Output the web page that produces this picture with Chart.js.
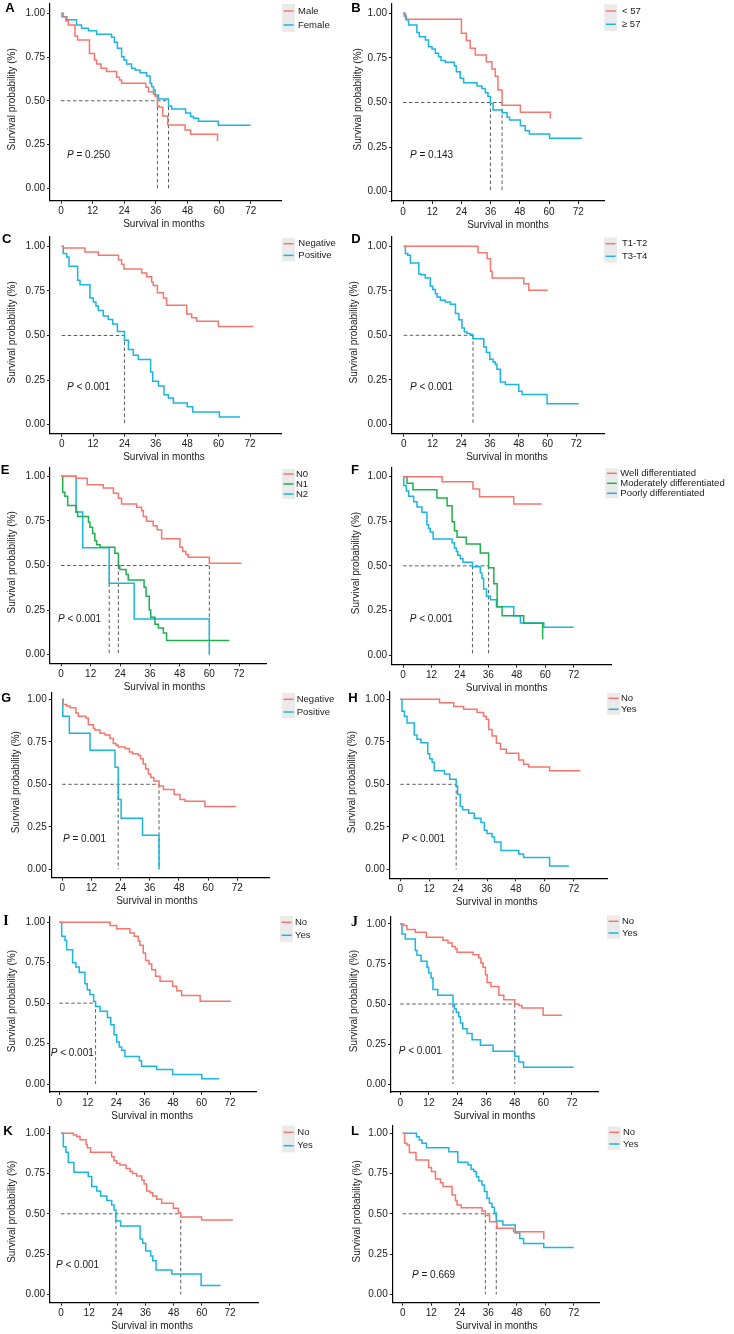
<!DOCTYPE html>
<html>
<head>
<meta charset="utf-8">
<script src="https://cdn.jsdelivr.net/npm/chart.js@4.4.1/dist/chart.umd.min.js"></script>
<style>
    html, body { margin: 0; padding: 0; background: #ffffff; }
    body { width: 734px; height: 1334px; position: relative; overflow: hidden; }
    canvas { position: absolute; }
</style>
</head>
<body>
<script>
const xTicks = [0, 12, 24, 36, 48, 60, 72];
const yTicks = [0, 0.25, 0.5, 0.75, 1];

// [months, survival] step points
const maleA = [[0, 1], [0.9, 0.98], [1.8, 0.958], [2.8, 0.933], [5.3, 0.87], [6.3, 0.848], [10.8, 0.771], [12.7, 0.733], [13.5, 0.71], [15.2, 0.686], [17.3, 0.667], [21.1, 0.634], [22.2, 0.619], [23, 0.6], [32.2, 0.577], [33.2, 0.552], [35.1, 0.537], [35.8, 0.524], [36.6, 0.47], [37.3, 0.463], [38.6, 0.413], [40.5, 0.362], [47.1, 0.333], [49.2, 0.309], [59.4, 0.27]];
const femaleA = [[0, 1], [0.4, 0.98], [2.2, 0.963], [5.9, 0.933], [7.8, 0.914], [10.4, 0.9], [13.5, 0.88], [19.2, 0.863], [20.3, 0.834], [21.4, 0.8], [23, 0.752], [23.9, 0.733], [24.9, 0.71], [26.8, 0.686], [28.1, 0.676], [30, 0.661], [32.5, 0.642], [33.8, 0.6], [34.4, 0.581], [35.1, 0.562], [35.7, 0.533], [37, 0.51], [40.8, 0.47], [42, 0.453], [47.3, 0.43], [49.2, 0.41], [50.3, 0.4], [52.2, 0.383], [59.7, 0.36], [72, 0.36]];
const mediansA = [36.6, 40.8];

const youngB = [[0, 1], [1, 0.966], [24, 0.888], [26, 0.847], [27.6, 0.804], [29.7, 0.766], [34.2, 0.729], [36.5, 0.688], [37.9, 0.647], [39, 0.57], [40.7, 0.484], [48.2, 0.445], [60.5, 0.411]];
const oldB = [[0, 1], [0.5, 0.985], [1.4, 0.963], [2.3, 0.935], [5.7, 0.892], [6.7, 0.869], [9.2, 0.85], [10.5, 0.813], [11.9, 0.8], [13.3, 0.776], [14.6, 0.757], [15.6, 0.735], [17.4, 0.725], [21.1, 0.705], [21.9, 0.673], [23.5, 0.636], [24.9, 0.611], [30.4, 0.592], [32.4, 0.579], [33.8, 0.555], [34.9, 0.533], [35.9, 0.495], [37, 0.458], [40.7, 0.443], [42.7, 0.417], [43.8, 0.402], [48.2, 0.37], [50.2, 0.342], [51.9, 0.323], [60.2, 0.299], [73.5, 0.299]];
const mediansB = [35.9, 40.7];

const negC = [[0, 1], [0.6, 0.99], [8.9, 0.968], [14, 0.95], [21.7, 0.925], [22.9, 0.9], [23.8, 0.873], [30.6, 0.85], [32.5, 0.83], [34.4, 0.8], [35, 0.78], [36.6, 0.74], [38.9, 0.71], [40.1, 0.67], [47.8, 0.62], [49.7, 0.6], [51.6, 0.58], [59.9, 0.55], [73.3, 0.55]];
const posC = [[0, 1], [0.6, 0.959], [1.9, 0.94], [2.8, 0.888], [6.1, 0.81], [7, 0.785], [10.8, 0.71], [12.1, 0.688], [13.1, 0.665], [14, 0.64], [15.9, 0.609], [17.8, 0.589], [19.5, 0.565], [21.3, 0.523], [24, 0.473], [25.5, 0.421], [27.4, 0.389], [29.3, 0.366], [34, 0.295], [34.8, 0.243], [37, 0.217], [39.1, 0.168], [40.8, 0.15], [42.7, 0.122], [48, 0.1], [50.1, 0.071], [60.3, 0.043], [68.2, 0.043]];
const mediansC = [24];

const earlyD = [[0, 1], [31, 0.964], [34.8, 0.93], [36.2, 0.86], [36.9, 0.822], [50.1, 0.79], [52.2, 0.753], [60.1, 0.753]];
const lateD = [[0, 1], [0.7, 0.959], [1.7, 0.95], [2.8, 0.906], [6.3, 0.846], [7, 0.84], [9, 0.822], [11.1, 0.775], [12.1, 0.757], [13.2, 0.734], [13.9, 0.715], [15.3, 0.697], [17.4, 0.687], [19.5, 0.674], [21.6, 0.622], [23, 0.588], [24.3, 0.541], [25.3, 0.519], [26.4, 0.51], [27.8, 0.504], [28.9, 0.481], [33.4, 0.434], [34.5, 0.403], [35.9, 0.365], [37.3, 0.35], [38.2, 0.337], [38.9, 0.309], [40.3, 0.238], [42.4, 0.223], [48, 0.185], [49.4, 0.167], [59.8, 0.116], [73, 0.116]];
const mediansD = [28.9];

const n0E = [[0, 1], [6.1, 0.989], [10.6, 0.953], [17.1, 0.935], [21.2, 0.905], [23.2, 0.877], [24.5, 0.845], [30.6, 0.826], [32.6, 0.807], [33.3, 0.774], [34.6, 0.748], [37.3, 0.723], [38.9, 0.7], [40.7, 0.65], [48.1, 0.602], [49.2, 0.579], [50.5, 0.561], [51.5, 0.546], [60, 0.512], [73, 0.512]];
const n1E = [[0, 1], [0.7, 0.91], [1.6, 0.888], [2.7, 0.836], [6.1, 0.8], [6.7, 0.774], [11.1, 0.742], [11.7, 0.714], [12.8, 0.68], [13.7, 0.639], [14.4, 0.617], [15.8, 0.602], [21.8, 0.568], [23.2, 0.5], [23.8, 0.477], [26.3, 0.449], [27.2, 0.419], [33.6, 0.378], [34.4, 0.327], [35.7, 0.25], [36.3, 0.21], [38, 0.17], [39.4, 0.15], [41.4, 0.121], [42.7, 0.08], [68.1, 0.08]];
const n2E = [[0, 1], [6.1, 0.8], [8.8, 0.6], [19.5, 0.4], [29.6, 0.2], [60, 0]];
const mediansE = [19.5, 23.2, 60];

const wellF = [[0, 1], [16.5, 0.972], [29.5, 0.931], [32.3, 0.888], [46.7, 0.847], [58.6, 0.847]];
const moderateF = [[0, 1], [1.7, 0.963], [4.2, 0.927], [14.3, 0.88], [18.6, 0.837], [20.7, 0.748], [21.7, 0.697], [22.8, 0.66], [26.7, 0.622], [32.6, 0.572], [36.1, 0.49], [38.3, 0.4], [39.7, 0.27], [41.8, 0.22], [50.9, 0.178], [58.9, 0.09]];
const poorF = [[0, 1], [0.3, 0.95], [1.4, 0.92], [2.4, 0.89], [4.5, 0.86], [5.9, 0.83], [8, 0.8], [10.1, 0.73], [10.8, 0.71], [11.5, 0.69], [12.7, 0.65], [20.7, 0.63], [21.7, 0.6], [22.5, 0.58], [23.1, 0.56], [24.2, 0.54], [25.3, 0.52], [29.3, 0.495], [32.6, 0.46], [33.3, 0.43], [34, 0.37], [35.2, 0.33], [36.9, 0.31], [39.4, 0.27], [46.7, 0.22], [49.5, 0.18], [59.4, 0.155], [72, 0.155]];
const mediansF = [29.3, 36.1];

const negG = [[0, 1], [0.4, 0.97], [1.8, 0.96], [3.2, 0.95], [5.6, 0.92], [6.6, 0.9], [9.7, 0.89], [10.7, 0.85], [12.8, 0.83], [13.4, 0.82], [15.5, 0.8], [17.6, 0.79], [19.6, 0.77], [21, 0.74], [22.1, 0.73], [23, 0.72], [25.8, 0.71], [27.6, 0.69], [28.9, 0.68], [31.3, 0.67], [32.2, 0.65], [33.3, 0.62], [34.3, 0.59], [35.4, 0.56], [36.4, 0.54], [37.7, 0.52], [39.8, 0.49], [41.6, 0.47], [46, 0.44], [48.4, 0.41], [50.5, 0.4], [58.7, 0.37], [71.5, 0.37]];
const posG = [[0, 1], [0.2, 0.9], [2.9, 0.8], [11.4, 0.7], [21.7, 0.6], [23, 0.41], [24.2, 0.3], [33, 0.2], [39.8, 0]];
const mediansG = [23, 39.8];

const noH = [[0, 1], [16.3, 0.98], [22.2, 0.957], [26.3, 0.941], [31.9, 0.922], [34.6, 0.9], [35.7, 0.882], [36.7, 0.822], [38.1, 0.784], [39.9, 0.741], [41.6, 0.706], [44, 0.682], [49.2, 0.643], [51.2, 0.618], [53.3, 0.602], [62, 0.58], [74.8, 0.58]];
const yesH = [[0, 1], [0.7, 0.93], [1.7, 0.9], [2.8, 0.86], [5.8, 0.79], [6.9, 0.765], [8.6, 0.745], [11.4, 0.68], [12.2, 0.65], [13.2, 0.63], [14.1, 0.58], [18.3, 0.56], [20.5, 0.53], [23.2, 0.49], [23.8, 0.44], [24.9, 0.37], [25.9, 0.35], [28.4, 0.33], [30.7, 0.3], [33.5, 0.275], [34.9, 0.23], [36, 0.21], [38.1, 0.19], [39.1, 0.16], [41.8, 0.11], [49.2, 0.09], [51.2, 0.07], [62, 0.02], [70, 0.02]];
const mediansH = [23.2];

const noI = [[0, 1], [21.4, 0.98], [24.2, 0.96], [29.8, 0.934], [31.6, 0.913], [33.3, 0.883], [34, 0.858], [35.4, 0.81], [36.4, 0.763], [37.8, 0.742], [39, 0.707], [40.6, 0.666], [42.5, 0.635], [47.8, 0.604], [49.5, 0.577], [51.6, 0.548], [59.4, 0.511], [72.3, 0.511]];
const yesI = [[0, 1], [1, 0.913], [2.4, 0.889], [3.1, 0.831], [5.6, 0.75], [7, 0.724], [8.4, 0.691], [10.8, 0.62], [11.8, 0.583], [12.9, 0.553], [14.5, 0.51], [15.3, 0.48], [17.2, 0.45], [20.3, 0.412], [21.7, 0.367], [23.1, 0.305], [24.2, 0.26], [25.3, 0.229], [26.3, 0.208], [27.7, 0.17], [33.8, 0.144], [34.7, 0.11], [41.1, 0.089], [47.8, 0.058], [60.1, 0.033], [67.5, 0.033]];
const mediansI = [15.3];

const noJ = [[0, 1], [1.4, 0.99], [2.8, 0.965], [6.3, 0.948], [10.9, 0.917], [17.9, 0.898], [20, 0.881], [21.7, 0.86], [23.1, 0.846], [23.8, 0.823], [30.5, 0.808], [32.9, 0.787], [33.8, 0.756], [34.7, 0.729], [35.7, 0.683], [36.4, 0.635], [38, 0.61], [41.3, 0.555], [43.4, 0.527], [48, 0.5], [49.7, 0.49], [51, 0.475], [59.9, 0.43], [67.8, 0.43]];
const yesJ = [[0, 1], [0.7, 0.938], [2.1, 0.906], [6.3, 0.835], [7, 0.804], [8.7, 0.767], [11.2, 0.729], [11.9, 0.694], [12.9, 0.663], [13.7, 0.59], [15.7, 0.554], [22.1, 0.495], [22.7, 0.469], [23.5, 0.448], [24.5, 0.42], [25.2, 0.381], [26.2, 0.346], [28, 0.315], [30.1, 0.277], [33.6, 0.242], [38.9, 0.204], [48, 0.173], [49.7, 0.138], [51.7, 0.104], [72.7, 0.104]];
const mediansJ = [22.1, 48];

const noK = [[0, 1], [5.3, 0.99], [6.7, 0.98], [8.1, 0.96], [10.7, 0.93], [11.2, 0.91], [12.6, 0.882], [21.6, 0.855], [22.6, 0.83], [23.7, 0.814], [25.1, 0.803], [27.7, 0.782], [29.4, 0.762], [30.5, 0.751], [32.2, 0.735], [34.4, 0.71], [35.4, 0.685], [36.5, 0.642], [37.9, 0.631], [39.1, 0.611], [40.8, 0.59], [42.9, 0.565], [47.9, 0.534], [50, 0.507], [51, 0.48], [59.9, 0.462], [73.2, 0.462]];
const yesK = [[0, 1], [1, 0.917], [2.1, 0.882], [3.1, 0.818], [5.5, 0.758], [11.6, 0.731], [13.1, 0.669], [15.2, 0.642], [16.9, 0.611], [19.5, 0.582], [21.6, 0.555], [22.6, 0.524], [23.4, 0.455], [25.4, 0.424], [33.7, 0.344], [34.8, 0.317], [36.1, 0.269], [38.2, 0.238], [39.1, 0.209], [40.5, 0.151], [47.2, 0.126], [59.7, 0.054], [68, 0.054]];
const mediansK = [23.4, 51];

const noL = [[0, 1], [0.8, 0.938], [1.8, 0.928], [2.8, 0.88], [5.6, 0.834], [10.9, 0.787], [12.1, 0.762], [13.8, 0.716], [15.9, 0.693], [17, 0.669], [20.8, 0.617], [22.2, 0.582], [22.9, 0.555], [24.6, 0.538], [33.4, 0.517], [34.8, 0.49], [36.6, 0.451], [39.7, 0.41], [46.7, 0.389], [59.4, 0.342]];
const yesL = [[0, 1], [5.8, 0.979], [7, 0.958], [8.1, 0.938], [10, 0.911], [19.4, 0.886], [23.2, 0.82], [27.5, 0.803], [28.8, 0.776], [29.9, 0.762], [31, 0.73], [32, 0.704], [33.4, 0.679], [34.4, 0.638], [35.5, 0.596], [36.5, 0.565], [37.6, 0.54], [38.6, 0.505], [39.4, 0.455], [42.2, 0.43], [47.4, 0.381], [49.3, 0.346], [50.9, 0.315], [59.4, 0.29], [72, 0.29]];
const mediansL = [34.8, 39.4];

const labelsA = ['Male', 'Female'];
const labelsB = ['< 57', '\u2265 57'];
const labelsC = ['Negative', 'Positive'];
const labelsD = ['T1-T2', 'T3-T4'];
const labelsE = ['N0', 'N1', 'N2'];
const labelsF = ['Well differentiated', 'Moderately differentiated', 'Poorly differentiated'];
const labelsG = ['Negative', 'Positive'];
const labelsYesNo = ['No', 'Yes'];

const pValues = ['= 0.250', '= 0.143', '< 0.001', '< 0.001', '< 0.001', '< 0.001', '= 0.001', '< 0.001', '< 0.001', '< 0.001', '< 0.001', '= 0.669'];

const RED = '#F8766D';
const BLUE = '#1AB4E5';
const GREEN = '#1FAF4E';
const PAGE_WIDTH = 734;
const FONT = '"Liberation Sans", Arial, sans-serif';
const TEXT = '#1a1a1a';

// axis box (L,T,R,B), tick pixels, text anchors - all in page pixels
const panels = [
    { letter: 'A', lx: 10, ly: 8, L: 50, T: 4, R: 281.7, B: 200.7, x0: 61, x72: 250.7, y1: 13.3, y0: 188.3, ytx: 12.5, xtx: 164, px: 67, py: 155, lgx: 282, lgy: 11, lgr: 14, lgt: 298, curves: [maleA, femaleA], labels: labelsA, colors: [RED, BLUE], medians: mediansA },
    { letter: 'B', lx: 356, ly: 8, L: 392, T: 3.5, R: 604.3, B: 201, x0: 403, x72: 578.3, y1: 13.3, y0: 191.7, ytx: 358, xtx: 508, px: 410, py: 155, lgx: 604.3, lgy: 11, lgr: 13.3, lgt: 622, curves: [youngB, oldB], labels: labelsB, colors: [RED, BLUE], medians: mediansB },
    { letter: 'C', lx: 6.7, ly: 239.5, L: 50, T: 237, R: 281.7, B: 433.7, x0: 61.7, x72: 250, y1: 246.3, y0: 424.7, ytx: 12.5, xtx: 164, px: 67, py: 387, lgx: 282, lgy: 243.7, lgr: 11.7, lgt: 298.3, curves: [negC, posC], labels: labelsC, colors: [RED, BLUE], medians: mediansC },
    { letter: 'D', lx: 356, ly: 239.5, L: 392, T: 237, R: 604.3, B: 433.7, x0: 403.7, x72: 576.3, y1: 246.3, y0: 424.3, ytx: 354, xtx: 507, px: 410, py: 387, lgx: 604, lgy: 243.7, lgr: 12.6, lgt: 622, curves: [earlyD, lateD], labels: labelsD, colors: [RED, BLUE], medians: mediansD },
    { letter: 'E', lx: 5, ly: 470, L: 50, T: 467.3, R: 266.7, B: 663.3, x0: 61, x72: 239, y1: 476.3, y0: 654.7, ytx: 12.5, xtx: 164.5, px: 58, py: 619, lgx: 282, lgy: 474, lgr: 10, lgt: 296, curves: [n0E, n1E, n2E], labels: labelsE, colors: [RED, GREEN, BLUE], medians: mediansE },
    { letter: 'F', lx: 355, ly: 470, L: 392, T: 467.3, R: 611, B: 664.7, x0: 403, x72: 573.7, y1: 476.7, y0: 655, ytx: 356, xtx: 506.7, px: 409.7, py: 619, lgx: 605.3, lgy: 473.3, lgr: 10, lgt: 620.3, curves: [wellF, moderateF, poorF], labels: labelsF, colors: [RED, GREEN, BLUE], medians: mediansF },
    { letter: 'G', lx: 6, ly: 698, L: 51.7, T: 692.7, R: 270, B: 877.7, x0: 62.3, x72: 237.3, y1: 699.3, y0: 869.3, ytx: 16, xtx: 157, px: 63, py: 839, lgx: 282, lgy: 699.3, lgr: 12.7, lgt: 296.7, curves: [negG, posG], labels: labelsG, colors: [RED, BLUE], medians: mediansG },
    { letter: 'H', lx: 353, ly: 698.5, L: 389.7, T: 692, R: 607.7, B: 878.3, x0: 400.3, x72: 573.7, y1: 699.3, y0: 869.3, ytx: 352, xtx: 496.7, px: 402, py: 839.3, lgx: 607, lgy: 698.3, lgr: 11, lgt: 621, curves: [noH, yesH], labels: labelsYesNo, colors: [RED, BLUE], medians: mediansH },
    { letter: 'I', serif: true, lx: 6, ly: 921, L: 50, T: 916.3, R: 256.7, B: 1092, x0: 59.3, x72: 230, y1: 922.3, y0: 1084, ytx: 12.5, xtx: 152.2, px: 50.7, py: 1053, lgx: 280, lgy: 922.3, lgr: 13, lgt: 295, curves: [noI, yesI], labels: labelsYesNo, colors: [RED, BLUE], medians: mediansI },
    { letter: 'J', serif: true, lx: 354.5, ly: 922, L: 391, T: 916.3, R: 598.7, B: 1092, x0: 400.3, x72: 572, y1: 924, y0: 1084, ytx: 354, xtx: 494.5, px: 398.7, py: 1051.3, lgx: 607, lgy: 921.3, lgr: 11.7, lgt: 622, curves: [noJ, yesJ], labels: labelsYesNo, colors: [RED, BLUE], medians: mediansJ },
    { letter: 'K', lx: 8, ly: 1131.7, L: 50, T: 1126.7, R: 258.3, B: 1302.7, x0: 61, x72: 230, y1: 1133.3, y0: 1294.3, ytx: 12.5, xtx: 152.2, px: 56, py: 1265, lgx: 282, lgy: 1132.3, lgr: 13.4, lgt: 297.3, curves: [noK, yesK], labels: labelsYesNo, colors: [RED, BLUE], medians: mediansK },
    { letter: 'L', lx: 355, ly: 1131.7, L: 392.7, T: 1126, R: 599.3, B: 1302.7, x0: 402.7, x72: 573.7, y1: 1133.3, y0: 1294.3, ytx: 357, xtx: 496.7, px: 412, py: 1275, lgx: 607.7, lgy: 1132.3, lgr: 11.7, lgt: 623, curves: [noL, yesL], labels: labelsYesNo, colors: [RED, BLUE], medians: mediansL },
];

const panelText = {
    id: 'panelText',
    afterDraw(chart, args, opts) {
        const { ctx } = chart;
        const p = opts.panel;
        const ox = opts.ox;
        const oy = opts.oy;
        const area = chart.chartArea;

        ctx.save();
        ctx.textBaseline = 'middle';
        ctx.textAlign = 'center';
        ctx.fillStyle = '#000000';
        ctx.font = p.serif ? 'bold 14px "Liberation Serif", serif' : `bold 13px ${FONT}`;
        ctx.fillText(p.letter, p.lx - ox, p.ly - oy);

        ctx.fillStyle = TEXT;
        ctx.font = `10px ${FONT}`;
        ctx.fillText('Survival in months', p.xtx - ox, p.B + 24 - oy);

        ctx.save();
        ctx.translate(p.ytx - ox, (area.top + area.bottom) / 2 - 3);
        ctx.rotate(-Math.PI / 2);
        ctx.fillText('Survival probability (%)', 0, 0);
        ctx.restore();

        ctx.textAlign = 'left';
        ctx.font = `italic 10px ${FONT}`;
        ctx.fillText('P', p.px - ox, p.py - oy);
        const pWidth = ctx.measureText('P').width;
        ctx.font = `10px ${FONT}`;
        ctx.fillText(' ' + opts.pValue, p.px - ox + pWidth, p.py - oy);

        // legend keys
        const n = p.labels.length;
        ctx.fillStyle = '#EAEAEA';
        ctx.fillRect(p.lgx - ox, p.lgy - p.lgr / 2 - oy, 13, p.lgr * n);
        ctx.font = `9.5px ${FONT}`;
        p.labels.forEach((label, i) => {
            const y = p.lgy + i * p.lgr - oy;
            ctx.strokeStyle = p.colors[i];
            ctx.lineWidth = 1.5;
            ctx.beginPath();
            ctx.moveTo(p.lgx - ox + 1.5, y);
            ctx.lineTo(p.lgx - ox + 11.5, y);
            ctx.stroke();
            ctx.fillStyle = TEXT;
            ctx.fillText(label, p.lgt - ox, y);
        });
        ctx.restore();
    },
};

function medianDatasets(medians) {
    const widest = Math.max(...medians);
    const segments = [[[0, 0.5], [widest, 0.5]]];

    medians.forEach((m) => segments.push([[m, 0.5], [m, 0]]));

    return segments.map((seg) => ({
        data: seg.map(([x, y]) => ({ x, y })),
        borderColor: '#4a4a4a',
        borderWidth: 0.9,
        borderDash: [3.5, 2.5],
        pointRadius: 0,
        fill: false,
    }));
}

function curveDatasets(panel) {
    return panel.curves.map((curve, i) => ({
        label: panel.labels[i],
        data: curve.map(([x, y]) => ({ x, y })),
        borderColor: panel.colors[i],
        borderWidth: 1.5,
        stepped: true,
        pointRadius: 0,
        fill: false,
    }));
}

function axisOptions(min, max, ticks, fitSize, format) {
    return {
        type: 'linear',
        min,
        max,
        afterFit(scale) {
            if (scale.isHorizontal()) {
                scale.height = fitSize;
            } else {
                scale.width = fitSize;
            }
        },
        afterBuildTicks(scale) {
            scale.ticks = ticks.map((value) => ({ value }));
        },
        grid: {
            drawOnChartArea: false,
            tickLength: 3,
            color: '#222222',
            lineWidth: 1,
        },
        border: {
            display: true,
            color: '#000000',
            width: 1.2,
        },
        ticks: {
            padding: 2,
            color: TEXT,
            autoSkip: false,
            maxRotation: 0,
            font: { family: FONT, size: 10 },
            callback: format,
        },
    };
}

function buildPanel(panel, index) {
    const left = Math.round(panel.L - 50);
    const top = Math.round(panel.T - 12);
    const width = PAGE_WIDTH - left;
    const height = Math.round(panel.B + 40) - top;

    const canvas = document.createElement('canvas');
    canvas.width = width;
    canvas.height = height;
    canvas.style.left = left + 'px';
    canvas.style.top = top + 'px';
    document.body.appendChild(canvas);

    const perMonth = (panel.x72 - panel.x0) / 72;
    const perUnit = panel.y0 - panel.y1;

    new Chart(canvas, {
        type: 'line',
        data: {
            datasets: [...curveDatasets(panel), ...medianDatasets(panel.medians)],
        },
        options: {
            responsive: false,
            animation: false,
            events: [],
            layout: {
                padding: {
                    left: panel.L - left - 40,
                    top: panel.T - top,
                    right: PAGE_WIDTH - panel.R,
                    bottom: top + height - panel.B - 30,
                },
            },
            plugins: {
                legend: { display: false },
                tooltip: { enabled: false },
                panelText: { panel, ox: left, oy: top, pValue: pValues[index] },
            },
            scales: {
                x: axisOptions(
                    -(panel.x0 - panel.L) / perMonth,
                    (panel.R - panel.x0) / perMonth,
                    xTicks,
                    30,
                    (v) => String(v),
                ),
                y: axisOptions(
                    -(panel.B - panel.y0) / perUnit,
                    1 + (panel.y1 - panel.T) / perUnit,
                    yTicks,
                    40,
                    (v) => Number(v).toFixed(2),
                ),
            },
        },
        plugins: [panelText],
    });
}

panels.forEach(buildPanel);
</script>
</body>
</html>
